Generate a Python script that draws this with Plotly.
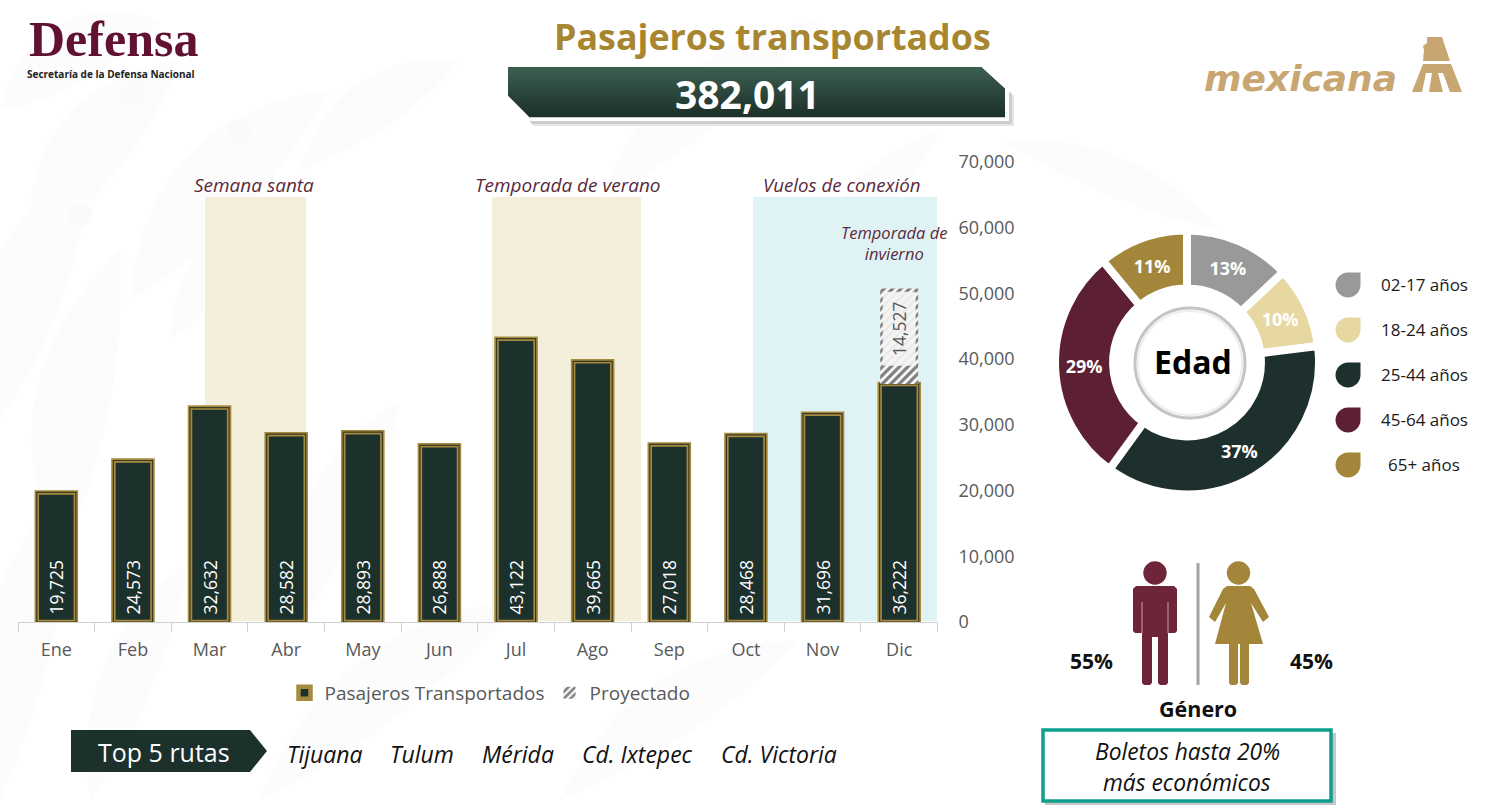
import plotly.graph_objects as go

# ---------- data ----------
months = ["Ene", "Feb", "Mar", "Abr", "May", "Jun", "Jul", "Ago", "Sep", "Oct", "Nov", "Dic"]
passengers = [19725, 24573, 32632, 28582, 28893, 26888, 43122, 39665, 27018, 28468, 31696, 36222]
projected = [None] * 11 + [14527]
age_labels = ["02-17 años", "18-24 años", "25-44 años", "45-64 años", "65+ años"]
age_values = [13, 10, 37, 29, 11]
age_colors = ["#999999", "#e6d8a0", "#1e302d", "#5d2033", "#a4863a"]
routes = ["Tijuana", "Tulum", "Mérida", "Cd. Ixtepec", "Cd. Victoria"]
total = 382011
gender = {"men": 55, "women": 45}

W, H = 1493, 812
DARK, GOLD, WINE, TXT = "#1c302c", "#a58a3f", "#6e2439", "#595959"
FONT = "Open Sans"


def X(x):
    return x / W


def Y(y):
    return 1 - y / H


def path(cmds):
    out = []
    for c in cmds:
        if isinstance(c, str):
            out.append(c)
        else:
            out.append(" ".join(f"{X(c[i]):.5f},{Y(c[i+1]):.5f}" for i in range(0, len(c), 2)))
    return " ".join(out)


def poly(pts):
    s = "M" + " L".join(f"{X(a):.5f},{Y(b):.5f}" for a, b in pts) + " Z"
    return s


shapes = []


def add_path(d, fill, line="rgba(0,0,0,0)", lw=0, layer="below"):
    shapes.append(dict(type="path", xref="paper", yref="paper", path=d, fillcolor=fill,
                       line=dict(color=line, width=lw), layer=layer))


def rect(x0, y0, x1, y1, fill, line="rgba(0,0,0,0)", lw=0, layer="below"):
    shapes.append(dict(type="rect", xref="paper", yref="paper", x0=X(x0), x1=X(x1), y0=Y(y1), y1=Y(y0),
                       fillcolor=fill, line=dict(color=line, width=lw), layer=layer))


def circle(cx, cy, r, fill, line="rgba(0,0,0,0)", lw=0, layer="below"):
    shapes.append(dict(type="circle", xref="paper", yref="paper", x0=X(cx - r), x1=X(cx + r), y0=Y(cy + r),
                       y1=Y(cy - r), fillcolor=fill, line=dict(color=line, width=lw), layer=layer))


annots = []


def T(text, x, y, size, color="#000000", bold=False, italic=False, family=FONT, anchor="center", angle=0):
    annots.append(dict(text=text, x=X(x), y=Y(y), xref="paper", yref="paper", showarrow=False, xanchor=anchor,
                       yanchor="middle", textangle=angle, align="center",
                       font=dict(size=size, color=color, family=family, weight=700 if bold else 400,
                                 style="italic" if italic else "normal")))


# ---------- faint ornamental background ----------
def leaf(x0, y0, x1, y1, b):
    mx, my = (x0 + x1) / 2, (y0 + y1) / 2
    dx, dy = y1 - y0, x0 - x1
    return path(["M", (x0, y0), "Q", (mx + dx * b, my + dy * b, x1, y1),
                 "Q", (mx - dx * b * .35, my - dy * b * .35, x0, y0), "Z"])


ORN = "#fcfcfc"
for a in [(0, 110, 160, 20, .5), (30, 250, 180, 60, .45), (130, 300, 330, 90, .4), (0, 420, 90, 160, .4),
          (60, 560, 120, 250, .35), (170, 340, 280, 210, .4), (0, 800, 70, 480, .3), (90, 800, 190, 560, .3),
          (300, 170, 460, 60, .4), (600, 200, 820, 20, .3), (260, 800, 520, 600, .3), (560, 800, 800, 640, .3),
          (300, 620, 400, 400, .35), (800, 300, 940, 130, .3), (1000, 140, 1220, 230, .25)]:
    add_path(leaf(*a), ORN)
for c in [(133, 93, 13), (240, 132, 12), (80, 215, 12), (360, 600, 12)]:
    circle(*c, "#fafafa")

# ---------- highlight bands ----------
rect(205, 197, 306, 621, "#f4efdb")
rect(492, 197, 641, 621, "#f4efdb")
rect(753, 197, 937, 621, "#e0f3f4")

# ---------- KPI banner ----------
add_path(poly([(514, 74), (986, 74), (1014, 96), (1014, 126), (534, 126), (514, 102)]), "#e6e6e6")
add_path(poly([(512, 72), (986, 72), (1012, 94), (1012, 124), (532, 124), (512, 100)]), "#cdcdcd")
add_path(poly([(506, 65), (983, 65), (1009, 87), (1009, 121), (529, 121), (506, 97)]), "#ffffff")
for i in range(50):
    y = 67 + i
    t = i / 49
    xl = 508 if y < 95 else 508 + (y - 95)
    xr = 982 + (y - 67) * 23 / 21 if y < 88 else 1005
    c = f"rgb({int(60 - 31*t)},{int(95 - 47*t)},{int(80 - 38*t)})"
    rect(xl, y, xr, y + 1.2, c)

# ---------- mexicana emblem ----------
LOGO = "#c8a672"
add_path(poly([(1427, 37), (1442, 37), (1450, 61), (1423, 61), (1424, 50), (1423, 46), (1427, 43)]), LOGO)
add_path(poly([(1423, 64), (1412, 92), (1422, 92), (1426, 73), (1432, 73), (1429, 92), (1443, 92), (1438, 73),
               (1443, 73), (1450, 92), (1462, 92), (1451, 64)]), LOGO)

# ---------- donut centre ----------
circle(1190, 363, 55, "#ffffff", "#c4c4c4", 3, layer="above")
circle(1190, 363, 52, "#ffffff", "#eeeeee", 2, layer="above")

# ---------- donut legend drops ----------
for yc, col in zip([285, 330, 375, 420, 465], age_colors):
    xc, r = 1348, 12.5
    k = r * .55
    add_path(path(["M", (xc, yc - r), "L", (xc + r, yc - r), "L", (xc + r, yc), "C",
                   (xc + r, yc + k, xc + k, yc + r, xc, yc + r), "C", (xc - k, yc + r, xc - r, yc + k, xc - r, yc), "C",
                   (xc - r, yc - k, xc - k, yc - r, xc, yc - r), "Z"]), col)

# ---------- gender pictograms ----------
MAN, WOMAN = "#6e2439", "#a4863a"
circle(1155, 573, 11.7, MAN)
add_path(poly([(1136, 586), (1174, 586), (1177, 589), (1177, 631), (1175, 633), (1168, 633), (1168, 683), (1166, 685),
               (1160, 685), (1158, 683), (1158, 637), (1152, 637), (1152, 683), (1150, 685), (1144, 685), (1142, 683),
               (1142, 633), (1135, 633), (1133, 631), (1133, 589)]), MAN)
for xs in (1142, 1168):
    shapes.append(dict(type="line", xref="paper", yref="paper", x0=X(xs), x1=X(xs), y0=Y(602), y1=Y(633),
                       line=dict(color="#c9a0ac", width=1), layer="below"))
shapes.append(dict(type="line", xref="paper", yref="paper", x0=X(1198), x1=X(1198), y0=Y(563), y1=Y(685),
                   line=dict(color="#a3a3a3", width=3), layer="below"))
circle(1238.5, 573, 11.7, WOMAN)
add_path(poly([(1227, 586), (1250, 586), (1254, 589), (1269, 617), (1263, 622), (1251, 603), (1263, 644), (1249, 644),
               (1249, 683), (1247, 685), (1242, 685), (1240, 683), (1240, 644), (1238, 644), (1238, 683), (1236, 685),
               (1231, 685), (1229, 683), (1229, 644), (1215, 644), (1226, 603), (1215, 622), (1209, 617), (1223, 589)]),
         WOMAN)

# ---------- note box ----------
rect(1045, 733, 1336, 805, "#c4c8c6")
rect(1043, 730, 1331, 801, "#ffffff", "#0e9f8e", 3.5)

# ---------- Top 5 tag ----------
add_path(poly([(71, 730), (250, 730), (267, 751), (250, 772), (71, 772)]), DARK)

# ---------- text ----------
T("Defensa", 113, 39, 50, "#611232", bold=True, family="Liberation Serif")
T("Secretaría de la Defensa Nacional", 111, 74, 10, "#222222", bold=True)
T("mexicana", 1300, 79, 36, LOGO, bold=True, italic=True, family="DejaVu Sans")
T("Pasajeros transportados", 772, 36, 35.8, "#a8852f", bold=True)
T(f"{total:,}", 747, 93, 39, "#ffffff", bold=True)
T("Semana santa", 254, 185, 19, "#5a2a3c", italic=True)
T("Temporada de verano", 568, 185, 19, "#5a2a3c", italic=True)
T("Vuelos de conexión", 842, 185, 18.7, "#5a2a3c", italic=True)
T("Temporada de<br>invierno", 894, 243, 16.5, "#5a2a3c", italic=True)
T("Edad", 1193, 362, 32, "#000000", bold=True)
for lab, yc in zip(age_labels, [284, 329, 374, 419, 464]):
    T(lab, 1424, yc, 17, "#1a1a1a")
T(f"{gender['men']}%", 1091, 661, 21, "#111111", bold=True)
T(f"{gender['women']}%", 1311, 661, 21, "#111111", bold=True)
T("Género", 1198, 708, 21.5, "#111111", bold=True)
T("Boletos hasta 20%", 1187, 751, 22.8, "#111111", italic=True)
T("más económicos", 1187, 782, 22.8, "#111111", italic=True)
T("Top 5 rutas", 164, 752, 25, "#ffffff")
for r, xc in zip(routes, [325, 422, 518, 637, 779]):
    T(r, xc, 754, 23, "#111111", italic=True)

# ---------- traces ----------
fig = go.Figure()
fig.add_bar(name="Pasajeros Transportados", x=months, y=passengers, width=.51,
            marker=dict(color=DARK, line=dict(color=GOLD, width=4.5)),
            text=["\u00a0" + f"{v:,}" for v in passengers], textangle=-90, textposition="inside",
            insidetextanchor="start",
            constraintext="none", textfont=dict(color="#ffffff", size=17.5, family=FONT), cliponaxis=False)
fig.add_bar(x=months, y=passengers, width=.51, showlegend=False, hoverinfo="skip",
            marker=dict(color="rgba(0,0,0,0)", line=dict(color="#3b3a22", width=1.2)), cliponaxis=False)
fig.add_bar(name="Proyectado", x=months, y=projected, base=passengers, width=.495,
            marker=dict(color="#ffffff", line=dict(width=0),
                        pattern=dict(shape="/", fgcolor="#000000", bgcolor="#ffffff", size=6, solidity=.55)))
# light panel behind the projected label (same projected value, inset)
panel_base = [None if p is None else b + p * .19 for b, p in zip(passengers, projected)]
panel_val = [None if p is None else p * .775 for p in projected]
fig.add_bar(x=months, y=panel_val, base=panel_base, width=.43, showlegend=False, hoverinfo="skip",
            marker=dict(color="#f2f2f2", line=dict(width=0),
                        pattern=dict(shape="/", fgcolor="#dcdcdc", bgcolor="#f4f4f4", size=6, solidity=.3)),
            text=[None if p is None else f"{p:,}" for p in projected], textangle=-90, textposition="inside",
            insidetextanchor="middle", constraintext="none",
            textfont=dict(color=TXT, size=17.5, family=FONT))
fig.add_pie(labels=age_labels, values=age_values, sort=False, direction="clockwise", rotation=0, hole=.56,
            domain=dict(x=[X(1187 - 132), X(1187 + 132)], y=[Y(362.5 + 132), Y(362.5 - 132)]),
            marker=dict(colors=age_colors, line=dict(color="#ffffff", width=8)), textinfo="percent",
            texttemplate="%{value}%", textposition="inside", insidetextorientation="horizontal",
            textfont=dict(color="#ffffff", size=18, family=FONT, weight=700), showlegend=False, hoverinfo="skip")

fig.update_layout(
    width=W, height=H, margin=dict(l=0, r=0, t=0, b=0, pad=0, autoexpand=False),
    paper_bgcolor="#ffffff", plot_bgcolor="rgba(0,0,0,0)", barmode="overlay", hovermode=False,
    font=dict(family=FONT, color=TXT, size=18), shapes=shapes, annotations=annots,
    legend=dict(orientation="h", x=X(490), y=Y(693), xanchor="center", yanchor="middle", bgcolor="rgba(0,0,0,0)",
                font=dict(size=19, color=TXT, family=FONT), itemclick=False, itemdoubleclick=False,
                traceorder="normal", itemwidth=30),
    xaxis=dict(domain=[X(18), X(937.5)], type="category", categoryorder="array", categoryarray=months,
               tickson="boundaries", ticks="outside", ticklen=9, tickcolor="#d0d0d0", tickwidth=1, showline=True,
               linecolor="#d0d0d0", linewidth=1, showgrid=False, zeroline=False,
               tickfont=dict(size=18, color=TXT, family=FONT), ticklabelstandoff=11, fixedrange=True),
    yaxis=dict(domain=[Y(622), Y(162)], range=[0, 70000], side="right", tickvals=list(range(0, 70001, 10000)),
               tickformat=",d", showgrid=False, zeroline=False, showline=False, ticks="",
               tickfont=dict(size=18, color=TXT, family=FONT), ticklabelstandoff=20, fixedrange=True),
)
fig.write_html("out.html", config={"displayModeBar": False}, post_script="document.body.style.margin='0';")
